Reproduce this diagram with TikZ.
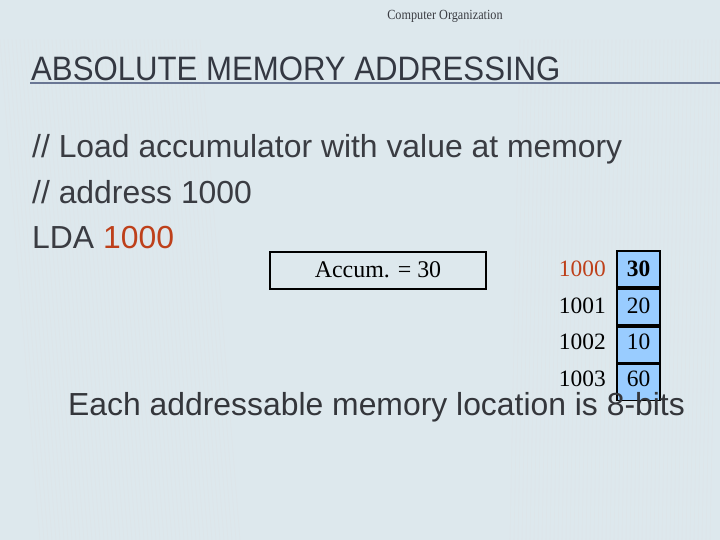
\documentclass[tikz,border=0pt]{standalone}
\usepackage{fontspec}
\setmainfont{Liberation Serif}
\newfontfamily\arialf{Liberation Sans}
\definecolor{bgc}{RGB}{221,232,237}
\definecolor{bgd}{RGB}{200,212,218}
\definecolor{txt}{RGB}{58,60,66}
\definecolor{ttl}{RGB}{52,56,66}
\definecolor{rule}{RGB}{105,118,148}
\definecolor{redo}{RGB}{190,64,26}
\definecolor{cellb}{RGB}{153,204,255}
\tikzset{
  body/.style={anchor=base west, inner sep=0pt, font=\arialf\fontsize{32}{34}\selectfont, text=txt},
  cellbox/.style={draw=black, line width=1.8bp, fill=cellb, minimum width=43bp, minimum height=36bp, inner sep=0pt},
  val/.style={anchor=base, inner sep=0pt, font=\fontsize{23.5}{25}\selectfont},
  addr/.style={anchor=base east, inner sep=0pt, font=\fontsize{23.5}{25}\selectfont}
}
\begin{document}
\begin{tikzpicture}[x=1bp,y=-1bp]
\useasboundingbox (0,0) rectangle (720,540);
\fill[bgc] (0,0) rectangle (720,540);
\begin{scope}
\clip (0,40) rectangle (720,540);
\foreach \i in {0,4,...,200} {
  \draw[bgd!60, line width=0.6bp] (\i,40) -- (\i+40,540);
}
\foreach \i in {520,524,...,720} {
  \draw[bgd!60, line width=0.6bp] (\i,40) -- (\i-10,540);
}
\end{scope}
\node[anchor=base, inner sep=0pt, text=txt, font=\fontsize{14}{16}\selectfont, xscale=0.875] (hdr) at (445,20) {Computer Organization};
\node[anchor=base west, inner sep=0pt, text=ttl, font=\arialf\fontsize{34}{36}\selectfont, xscale=0.92] (title) at (31,81) {ABSOLUTE MEMORY ADDRESSING};
\coordinate (rl) at (30,83);
\coordinate (rr) at (720,83);
\draw[rule, line width=2bp] (rl) -- (rr);
\node[body] (l1) at (32,158) {// Load accumulator with value at memory};
\node[body] (l2) at (32,204) {// address 1000};
\node[body] (l3) at (32,249) {LDA \textcolor{redo}{1000}};
\node[draw=black, line width=1.8bp, minimum width=216bp, minimum height=37bp, inner sep=0pt] (acc) at (378,270.5) {};
\node[anchor=base, inner sep=0pt, font=\fontsize{24}{26}\selectfont] (acct) at (378,278) {Accum. = 30};
\node[cellbox] (c0) at (638.5,269) {};
\node[cellbox, anchor=north] (c1) at (c0.south) {};
\node[cellbox, anchor=north] (c2) at (c1.south) {};
\node[cellbox, anchor=north] (c3) at (c2.south) {};
\node[val] (v0) at (638.5,277) {\textbf{30}};
\node[val] (v1) at (638.5,313) {20};
\node[val] (v2) at (638.5,349.5) {10};
\node[val] (v3) at (638.5,386) {60};
\node[addr, text=redo] (a0) at (606,277) {1000};
\node[addr] (a1) at (606,313) {1001};
\node[addr] (a2) at (606,349.5) {1002};
\node[addr] (a3) at (606,386) {1003};
\node[body, text=txt!90!black] (foot) at (68,415) {Each addressable memory location is 8-bits};
\end{tikzpicture}
\end{document}
